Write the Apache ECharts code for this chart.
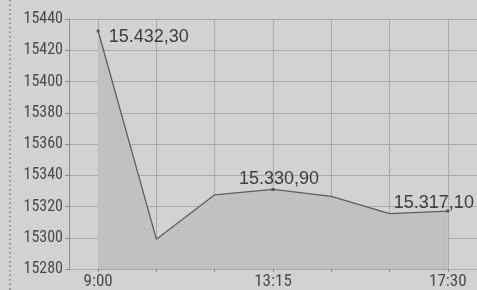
<!DOCTYPE html>
<html>
<head>
<meta charset="utf-8">
<script src="https://cdn.jsdelivr.net/npm/echarts@6/dist/echarts.min.js"></script>
<style>
  html, body { margin: 0; padding: 0; background: #d2d2d2; }
  #chart { width: 477px; height: 290px; }
</style>
</head>
<body>
<div id="chart"></div>
<script>
// time points of the trading day
const times = ['9:00', '10:25', '11:50', '13:15', '14:40', '16:05', '17:30']
const values = [15432.3, 15299, 15327.5, 15330.9, 15326.5, 15315.5, 15317.1]
// which points carry a value label
const labelled = [0, 3, 6]
const yTicks = [15280, 15300, 15320, 15340, 15360, 15380, 15400, 15420, 15440]

const fmt = v => {
  const [i, d] = v.toFixed(2).split('.')
  return i.replace(/\B(?=(\d{3})+(?!\d))/g, '.') + ',' + d
}

const labelPos = {
  0: { position: 'right', distance: 9, offset: [0, 6] },
  3: { position: 'top', distance: 3, offset: [6, 3] },
  6: { position: 'top', distance: 2, offset: [-14, 4] }
}

const seriesData = values.map((v, i) => {
  if (!labelled.includes(i)) return { value: v, symbolSize: 0 }
  return {
    value: v,
    symbolSize: 3,
    label: Object.assign({ show: true, formatter: p => fmt(p.value) }, labelPos[i])
  }
})

const axisFont = 'Liberation Sans Narrow, Arial Narrow, Roboto Condensed, sans-serif'

const chart = echarts.init(document.getElementById('chart'))
chart.setOption({
  backgroundColor: '#d2d2d2',
  animation: false,
  grid: { left: 69, right: -4, top: 19, bottom: 20, containLabel: false },
  xAxis: {
    type: 'category',
    data: times,
    boundaryGap: true,
    axisLine: { show: false },
    axisTick: { show: true, alignWithLabel: true, length: 3, interval: 0, lineStyle: { color: '#8a8a8a' } },
    axisLabel: {
      interval: 2,
      color: '#4a4a4a',
      fontFamily: axisFont,
      fontSize: 17,
      margin: 4
    },
    splitLine: { show: true, alignWithLabel: true, interval: 0, lineStyle: { color: '#a9a9a9', width: 1 } }
  },
  yAxis: {
    type: 'value',
    min: yTicks[0],
    max: yTicks[yTicks.length - 1],
    interval: 20,
    axisLine: { show: true, lineStyle: { color: '#8f8f8f' } },
    axisTick: { show: true, length: 4, lineStyle: { color: '#8f8f8f' } },
    axisLabel: {
      color: '#4a4a4a',
      fontFamily: axisFont,
      fontSize: 16,
      margin: 6,
      formatter: v => String(v)
    },
    splitLine: { lineStyle: { color: '#a9a9a9', width: 1 } }
  },
  graphic: [{
    type: 'line',
    shape: { x1: 10, y1: 0, x2: 10, y2: 290 },
    style: { stroke: '#7a7a7a', lineWidth: 1.5, lineDash: [1.5, 3] },
    silent: true
  }],
  series: [{
    type: 'line',
    data: seriesData,
    symbol: 'rect',
    itemStyle: { color: '#555' },
    lineStyle: { color: '#5e5e5e', width: 1.3 },
    areaStyle: { color: '#c1c1c1', opacity: 1 },
    label: {
      color: '#3e3e3e',
      fontFamily: 'Liberation Sans, Arial, sans-serif',
      fontSize: 18
    }
  }]
})
</script>
</body>
</html>
